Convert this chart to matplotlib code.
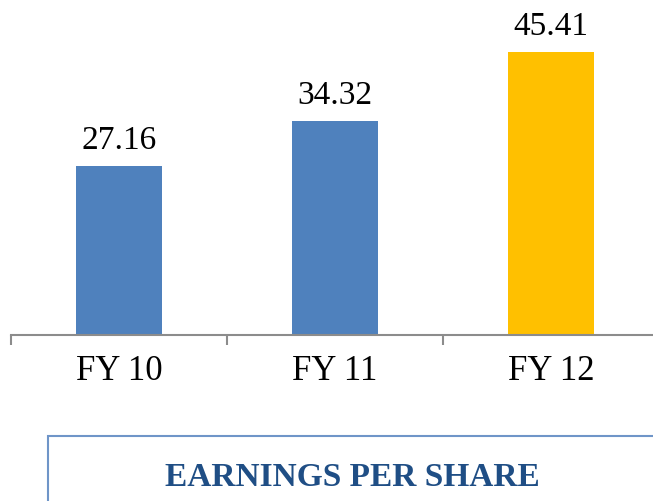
import matplotlib.pyplot as plt
from matplotlib.patches import Rectangle

categories = ['FY 10', 'FY 11', 'FY 12']
eps = [27.16, 34.32, 45.41]
colors = ['#4F81BD', '#4F81BD', '#FFC000']
title = 'EARNINGS PER SHARE'

plt.rcParams['font.family'] = ['Liberation Serif', 'DejaVu Serif']

W, H = 653, 502
fig = plt.figure(figsize=(W / 100, H / 100), dpi=100)
ax = fig.add_axes([11 / W, (H - 336) / H, 648 / W, 336 / H])

x = range(len(categories))
bars = ax.bar(x, eps, width=0.4, color=colors)
ax.bar_label(bars, labels=[f'{v:.2f}' for v in eps], padding=8, fontsize=24)

ax.set_xlim(-0.5, len(categories) - 0.5)
ax.set_ylim(0, 54)

for s in ['left', 'top', 'right']:
    ax.spines[s].set_visible(False)
ax.spines['bottom'].set_color('#8C8C8C')
ax.spines['bottom'].set_linewidth(1.5)
ax.set_yticks([])

ax.set_xticks([i - 0.5 for i in range(len(categories) + 1)])
ax.set_xticklabels([])
ax.tick_params(axis='x', which='major', length=7.2, width=1.5, color='#8C8C8C')
ax.set_xticks(list(x), minor=True)
ax.set_xticklabels(categories, minor=True, fontsize=25)
ax.tick_params(axis='x', which='minor', length=0, pad=14)

fig.patches.append(Rectangle((48 / W, -0.05), 607 / W, (H - 437) / H + 0.05,
                             transform=fig.transFigure, fill=False,
                             edgecolor='#6F95C8', linewidth=1.5))
fig.text(352 / W, (H - 478) / H, title, ha='center', va='center',
         fontsize=24, fontweight='bold', color='#1F4E85')

fig.savefig('out.png', dpi=100)
